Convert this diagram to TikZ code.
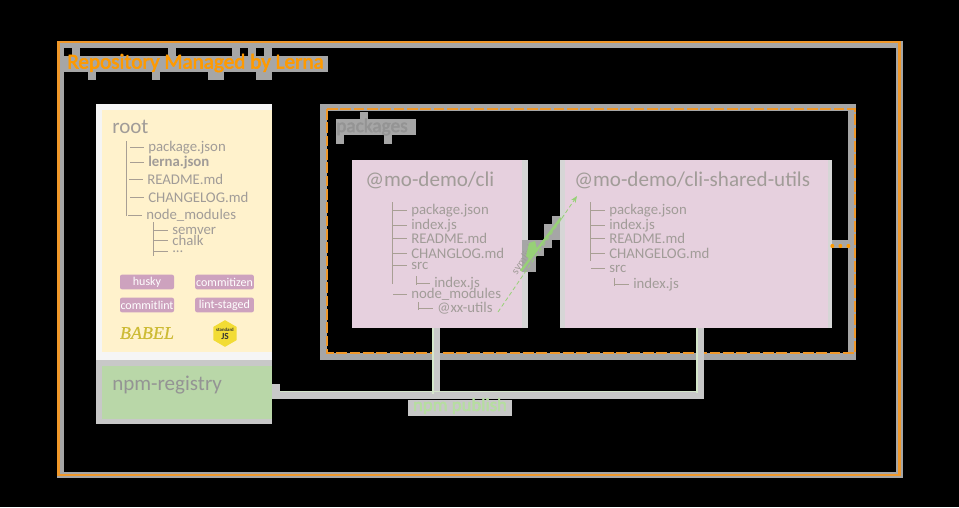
\documentclass[tikz,border=0pt]{standalone}
\usepackage{fontspec}
\setmainfont{Carlito}
\newfontfamily\heavyfont[FakeBold=2.5]{Carlito}
\newfontfamily\babelfont[FakeBold=0.6]{Liberation Serif}
\usetikzlibrary{shapes.geometric,arrows.meta}
\def\u{0.75pt}
\definecolor{halo}{HTML}{A6A6A6}
\definecolor{halolight}{HTML}{C8C8C8}
\definecolor{haloface}{HTML}{D6D6D6}
\definecolor{orangeline}{HTML}{F0982A}
\definecolor{titleorange}{HTML}{FF9A00}
\definecolor{cream}{HTML}{FFF2CC}
\definecolor{pinkbox}{HTML}{E6D0DE}
\definecolor{greenbox}{HTML}{B9D7A8}
\definecolor{inktext}{HTML}{A19C98}
\definecolor{treeline}{HTML}{A89F94}
\definecolor{tagfill}{HTML}{CDA2BE}
\definecolor{greenline}{HTML}{97D077}
\definecolor{babelink}{HTML}{CDBB35}
\definecolor{jsyellow}{HTML}{F2DC35}
\tikzset{
  x=0.75pt,y=-0.75pt,
  patch/.style={fill=halo,draw=none},
  heading/.style={anchor=west,inner sep=0,text=inktext,font=\fontsize{15.8pt}{17pt}\selectfont},
  treeitem/.style={anchor=west,inner sep=0,text=inktext,font=\fontsize{11.1pt}{12pt}\selectfont},
  treerule/.style={draw=treeline,line width=0.5pt},
  tagbox/.style={fill=tagfill,rounded corners=1.5pt,text=white,inner sep=0,minimum width=40.5pt,minimum height=11pt,font=\fontsize{9pt}{10pt}\selectfont},
  boxnode/.style={draw=none,inner sep=0,outer sep=0,anchor=north west},
  linkhalo/.style={draw=halolight,line width=6pt},
  linkgreen/.style={draw=greenbox!60!white,line width=0.9pt},
}
\newcommand{\treeentry}[4]{% name, x, y, text
  \draw[treerule] (#2-18,#3) -- (#2-4,#3);
  \node[treeitem] (#1) at (#2,#3+0.5) {#4};}
\begin{document}
\begin{tikzpicture}
\useasboundingbox (0,0) rectangle (959,507);
\fill[black] (0,0) rectangle (959,507);

% outer repository frame halo and line
\fill[patch] (57,41) rectangle (903,48);
\fill[patch] (57,41) rectangle (64,478);
\fill[patch] (896,41) rectangle (903,478);
\fill[patch] (57,472) rectangle (903,478);
\draw[orangeline,line width=2pt] (58.5,42) -- (899.5,42) -- (899.5,475) -- (58.5,475) -- cycle;

% title patch
\fill[patch] (64,56) rectangle (328,72);
\foreach \a/\b in {88/96,152/160,208/224,256/272}{\fill[patch] (\a,72) rectangle (\b,80);}
\foreach \a/\b in {72/80,168/176,232/240,248/256,264/272}{\fill[patch] (\a,48) rectangle (\b,56);}
\node[anchor=west,inner sep=0,text=titleorange,font=\fontsize{15.9pt}{16pt}\selectfont\heavyfont] (title) at (67,63) {Repository Managed by Lerna};

% packages frame
\fill[patch] (320,104) rectangle (856,111);
\fill[patch] (320,104) rectangle (327,360);
\fill[patch] (848,104) rectangle (856,360);
\fill[patch] (320,353) rectangle (856,360);
\draw[orangeline,line width=1.5pt,dash pattern=on 8pt off 2pt] (327,109) -- (855,109) -- (855,353) -- (327,353) -- cycle;
\fill[patch] (336,119) rectangle (416,135);
\fill[patch] (360,112) rectangle (368,119);
\fill[patch] (336,135) rectangle (344,144);
\fill[patch] (384,135) rectangle (392,144);
\node[anchor=west,inner sep=0,text=black!42,font=\fontsize{14.5pt}{15pt}\selectfont\heavyfont] (pkg) at (336,127) {packages};

% links
\node[boxnode,fill=haloface,minimum width=176*\u,minimum height=168*\u] (cli) at (352,160) {};
\node[boxnode,fill=haloface,minimum width=272*\u,minimum height=168*\u] (utils) at (560,160) {};
\node[boxnode,fill=halolight,minimum width=176*\u,minimum height=64*\u] (registry) at (96,360) {};
\fill[pinkbox] (352,160) rectangle (522,328);
\fill[pinkbox] (565,160) rectangle (828,328);

\draw[linkhalo] ([xshift=-4*\u]cli.south) |- ([yshift=-3*\u]registry.east);
\draw[linkhalo] ([xshift=4*\u]utils.south) |- ([yshift=-3*\u]registry.east);
\draw[linkgreen] ([xshift=-7*\u]cli.south) -- ([xshift=-7*\u,yshift=-1.5*\u]cli.south |- registry.east);
\draw[linkgreen] ([xshift=1*\u]utils.south) -- ([xshift=1*\u,yshift=-1*\u]utils.south |- registry.east);
\draw[linkgreen] ([yshift=0.5*\u]registry.east) -- ([xshift=1*\u,yshift=0.5*\u]utils.south |- registry.east);
\fill[halolight] (272,384) rectangle (280,392);

% npm publish label
\fill[halolight] (408,400) rectangle (512,416);
\node[inner sep=0,text=greenline!70!white,font=\fontsize{14pt}{15pt}\selectfont\heavyfont] (publish) at (460,406) {npm publish};

% root column
\fill[black!4] (96,104) rectangle (272,360);
\fill[cream] (102,110) rectangle (272,352);
\fill[greenbox] (102,366) rectangle (272,419);
\node[heading] (rootname) at (112,127) {root};
\node[heading,text=black!42] (regname) at (112,385) {npm-registry};

% root tree
\draw[treerule] (126.5,141) -- (126.5,216);
\treeentry{r1}{148}{147}{package.json}
\treeentry{r2}{148}{162}{\bfseries lerna.json}
\treeentry{r3}{147}{179}{README.md}
\treeentry{r4}{148}{197}{CHANGELOG.md}
\treeentry{r5}{146}{215}{node\_modules}
\draw[treerule] (153.5,222) -- (153.5,256);
\treeentry{r6}{172}{230}{semver}
\treeentry{r7}{172}{240}{chalk}
\treeentry{r8}{172}{251}{...}

% tags
\node[tagbox] (husky) at (147,282) {husky};
\node[tagbox,minimum width=44pt] (cz) at (224.5,282) {commitizen};
\node[tagbox] (cl) at (147,305) {commitlint};
\node[tagbox,minimum width=44pt] (ls) at (224.5,305) {lint-staged};
\node[inner sep=0,font=\fontsize{13.5pt}{14pt}\selectfont\babelfont\itshape,text=babelink] (babel) at (147,333) {BABEL};
\node[regular polygon,regular polygon sides=6,rotate=30,fill=jsyellow,minimum size=20pt,inner sep=0] (stdhex) at (225,333.5) {};
\node[inner sep=0,align=center,font=\fontsize{3.6pt}{4pt}\selectfont\bfseries,text=black!80] (stdtxt) at (225,333.5) {standard\\[0.6pt]{\fontsize{7pt}{7pt}\selectfont JS}};

% cli contents
\node[heading] (cliname) at (365,180) {@mo-demo/cli};
\draw[treerule] (392.5,202) -- (392.5,284);
\treeentry{c1}{411}{210}{package.json}
\treeentry{c2}{411}{225}{index.js}
\treeentry{c3}{411}{238}{README.md}
\treeentry{c4}{411}{253}{CHANGLOG.md}
\treeentry{c5}{411}{265}{src}
\draw[treerule] (416,276) -- (416,285);
\treeentry{c6}{434}{283}{index.js}
\treeentry{c7}{411}{294}{node\_modules}
\draw[treerule] (418,302) -- (418,310);
\treeentry{c8}{437}{308}{@xx-utils}

% utils contents
\node[heading] (utilsname) at (574,180) {@mo-demo/cli-shared-utils};
\draw[treerule] (590.5,202) -- (590.5,261);
\treeentry{u1}{609}{210}{package.json}
\treeentry{u2}{609}{225}{index.js}
\treeentry{u3}{609}{238}{README.md}
\treeentry{u4}{609}{253}{CHANGELOG.md}
\treeentry{u5}{609}{268}{src}
\draw[treerule] (614,278) -- (614,286);
\treeentry{u6}{633}{284}{index.js}

% dotted link to frame
\fill[patch] (832,240) rectangle (848,248);
\coordinate (dotstart) at (832,246);
\coordinate (dotend) at (855,246);
\draw[titleorange,line width=2.4pt,line cap=round,dash pattern=on 0.5pt off 5.5pt] (dotstart) -- (dotend);

% symlink
\fill[patch] (522,240) rectangle (536,272);
\fill[patch] (536,240) rectangle (544,256);
\fill[patch] (544,240) rectangle (552,248);
\fill[patch] (544,224) rectangle (560,240);
\fill[patch] (552,216) rectangle (560,224);
\node[inner sep=0,rotate=56,text=inktext,font=\fontsize{8.5pt}{9pt}\selectfont] (symtext) at (524,259) {symlink};
\coordinate (linkstart) at (498,312);
\coordinate (linkend) at (577,196);
\draw[greenline,line width=0.6pt,dash pattern=on 3pt off 2pt,-{Stealth[length=5pt,width=4pt]}] (linkstart) -- (linkend);
\draw[greenline,line width=1.8pt] (521,271) -- (561,218);
\fill[greenline] (526,256) -- (529,243) -- (535,241) -- (537,249) -- (530,260) -- cycle;
\end{tikzpicture}
\end{document}
